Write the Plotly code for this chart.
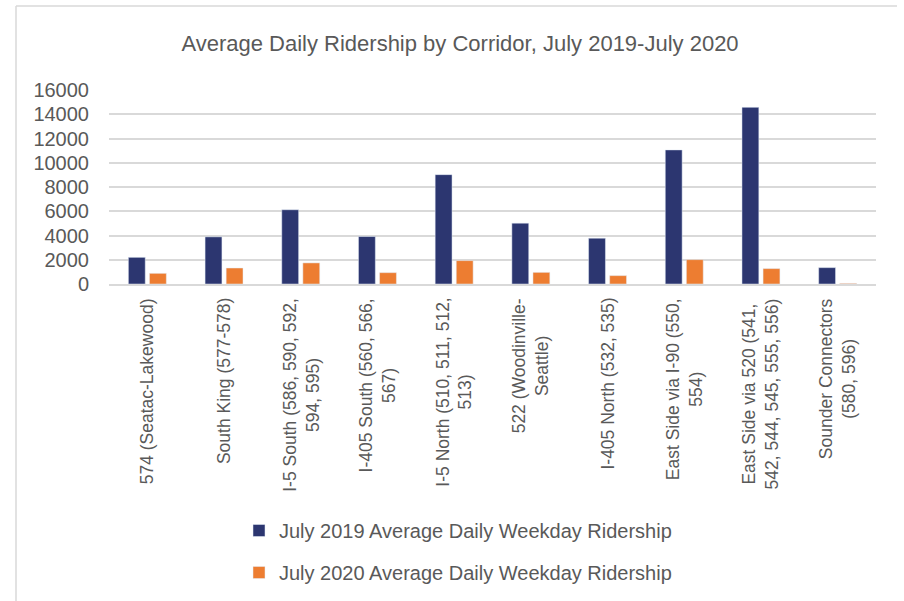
import plotly.graph_objects as go

categories = [
    "574 (Seatac-Lakewood)",
    "South King (577-578)",
    "I-5 South (586, 590, 592,<br>594, 595)",
    "I-405 South (560, 566,<br>567)",
    "I-5 North (510, 511, 512,<br>513)",
    "522 (Woodinville-<br>Seattle)",
    "I-405 North (532, 535)",
    "East Side via I-90 (550,<br>554)",
    "East Side via 520 (541,<br>542, 544, 545, 555, 556)",
    "Sounder Connectors<br>(580, 596)",
]
ridership_2019 = [2200, 3890, 6125, 3915, 9020, 5020, 3775, 11060, 14570, 1350]
ridership_2020 = [880, 1320, 1740, 935, 1930, 960, 690, 2010, 1270, 50]
series_names = [
    "July 2019 Average Daily Weekday Ridership",
    "July 2020 Average Daily Weekday Ridership",
]
y_ticks = [0, 2000, 4000, 6000, 8000, 10000, 12000, 14000, 16000]

FONT = "Liberation Sans, Arial, sans-serif"
GREY = "#595959"
W, H = 904, 601
L, R, T, B = 109, 28, 90, 317
PW, PH = W - L - R, H - T - B

fig = go.Figure()
fig.add_trace(go.Bar(x=categories, y=ridership_2019, name=series_names[0],
                     marker_color="#2C3670", legendgroup="a"))
fig.add_trace(go.Bar(x=categories, y=ridership_2020, name=series_names[1],
                     marker_color="#ED7D31", legendgroup="b"))

annotations = []
for c in categories:
    annotations.append(dict(
        x=c, xref="x", y=-12 / PH, yref="paper", text=c, showarrow=False,
        textangle=-90, xanchor="center", yanchor="top", align="center",
        font=dict(family=FONT, size=17.5, color=GREY)))

fig.update_layout(
    width=W, height=H,
    margin=dict(l=L, r=R, t=T, b=B, autoexpand=False),
    paper_bgcolor="white", plot_bgcolor="white",
    barmode="group", bargap=0.45, bargroupgap=0.2,
    title=dict(text="Average Daily Ridership by Corridor, July 2019-July 2020",
               x=460 / W, xref="container", xanchor="center",
               y=1 - 43 / H, yref="container", yanchor="middle",
               font=dict(family=FONT, size=22, color=GREY)),
    font=dict(family=FONT, color=GREY),
    showlegend=True,
    legend=dict(orientation="v", xref="paper", yref="paper",
                x=(239 - L) / PW, xanchor="left",
                y=-(511 - (H - B)) / PH, yanchor="top",
                tracegroupgap=13, font=dict(family=FONT, size=20, color=GREY),
                bgcolor="rgba(0,0,0,0)"),
    annotations=annotations,
    shapes=[
        dict(type="line", xref="paper", yref="paper",
             x0=(16 - L) / PW, x1=(897 - L) / PW,
             y0=1 + (T - 6) / PH, y1=1 + (T - 6) / PH,
             line=dict(color="#d9d9d9", width=1.5)),
        dict(type="line", xref="paper", yref="paper",
             x0=(16 - L) / PW, x1=(16 - L) / PW,
             y0=1 + (T - 6) / PH, y1=-(B + 5) / PH,
             line=dict(color="#d9d9d9", width=1.5)),
    ],
)
fig.update_xaxes(showticklabels=False, showgrid=False, zeroline=False,
                 showline=True, linecolor="#d9d9d9", linewidth=1.5)
fig.update_yaxes(range=[0, 16000], tickvals=y_ticks, tickformat="d",
                 showgrid=True, gridcolor="#d9d9d9", gridwidth=1.5,
                 zeroline=False, ticklabelstandoff=19,
                 tickfont=dict(family=FONT, size=20, color=GREY))

fig.write_html("out.html", config={"displayModeBar": False},
               post_script="document.body.style.margin='0';")
